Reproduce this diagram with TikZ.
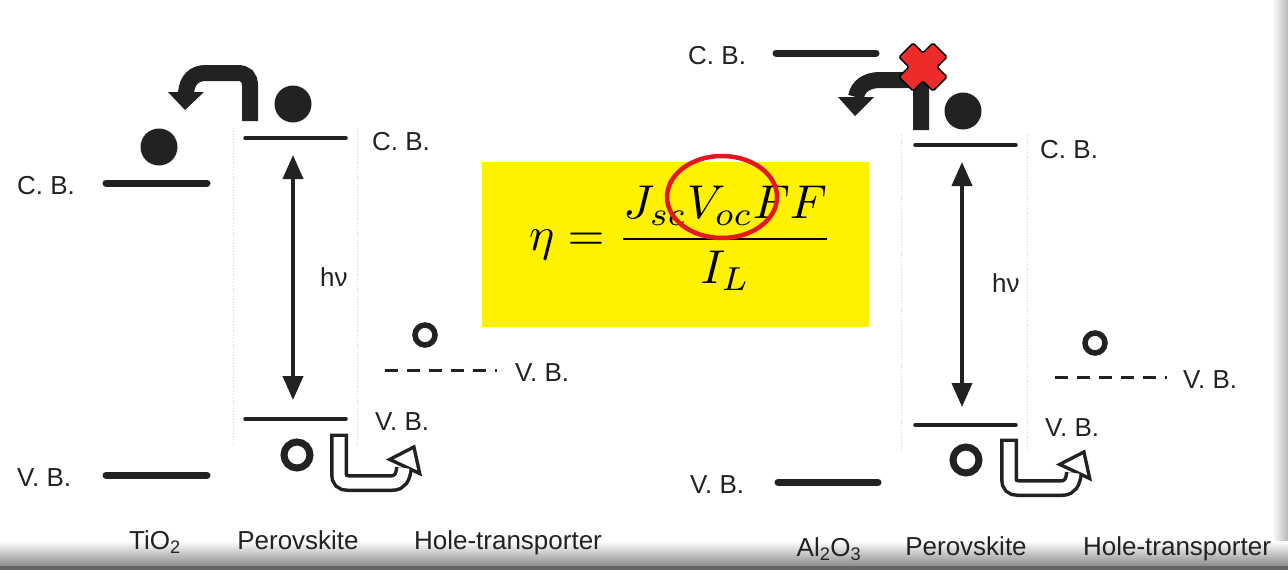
\documentclass[tikz,border=0pt]{standalone}
\usepackage{fontspec}
\newfontfamily\labfont{Liberation Sans}
\usetikzlibrary{arrows.meta}
\definecolor{ink}{HTML}{222222}
\definecolor{crossred}{HTML}{EE2B2B}
\definecolor{ringred}{HTML}{E5161D}
\begin{document}
\begin{tikzpicture}[x=1pt,y=-1pt,
  lbl/.style={font=\labfont\fontsize{26}{30}\selectfont, text=ink, inner sep=0pt, anchor=west},
  blbl/.style={font=\labfont\fontsize{26}{30}\selectfont, text=ink, inner sep=0pt, anchor=base},
  oxide/.style={line width=7pt, line cap=round, draw=ink},
  perov/.style={line width=3.5pt, line cap=round, draw=ink},
  htlevel/.style={line width=3pt, draw=ink, dash pattern=on 13pt off 9pt},
  gap/.style={line width=4pt, draw=ink, {Triangle[length=24pt,width=20pt]}-{Triangle[length=24pt,width=20pt]}},
  electron/.style={circle, fill=ink, minimum size=37pt, inner sep=0pt},
  hole/.style={circle, draw=ink, line width=7pt, minimum size=26pt, inner sep=0pt},
  smallhole/.style={circle, draw=ink, line width=5.5pt, minimum size=20pt, inner sep=0pt},
  guide/.style={draw=black!18, line width=0.8pt, dotted},
  eband/.style={draw=ink, line width=16pt},
  holearrow/.pic={
    \draw[ink, line width=18pt] (0,-3.5) -- (0,37) .. controls (0,43) and (3,46) .. (9,46) -- (53,46) .. controls (61,46) and (64,40) .. (65,31);
    \fill[ink] (76.1,7.5) -- (83.1,39.5) -- (46.9,22.5) -- cycle;
    \draw[white, line width=11pt] (0,0) -- (0,37) .. controls (0,43) and (3,46) .. (9,46) -- (53,46) .. controls (61,46) and (64,40) .. (65,31);
    \fill[white] (73.7,12.7) -- (78.2,33.3) -- (54.8,22.3) -- cycle;
  },
]
\useasboundingbox (0,0) rectangle (1288,570);
\fill[white] (0,0) rectangle (1288,570);

% frame edges
\shade[left color=white, right color=black!28] (1272,0) rectangle (1288,570);
\shade[top color=white, bottom color=black!45] (0,541) rectangle (1288,566);
\fill[black!60] (0,566) rectangle (1288,570);

% dotted guides
\draw[guide] (233,128) -- (233,445);
\draw[guide] (357,128) -- (357,445);
\draw[guide] (901,135) -- (901,450);
\draw[guide] (1027,135) -- (1027,450);

% ---------- left panel ----------
\draw[oxide] (106,183) -- (207,183);
\draw[oxide] (106,475) -- (207,475);
\draw[perov] (245,138) -- (346,138);
\draw[perov] (245,419) -- (346,419);
\draw[htlevel] (385,370) -- (497,370);

\coordinate (lcb) at (293,155);
\coordinate (lvb) at (293,400);
\draw[gap] (lcb) -- (lvb);

\node[electron] (e1) at (159,147) {};
\node[electron] (e2) at (293,104) {};
\node[hole] (h1) at (297,455) {};
\node[smallhole] (h2) at (425,335) {};

\draw[eband] (250,121) -- (250,86) .. controls (250,77) and (246,73) .. (237,73) -- (206,73) .. controls (194,73) and (187,80) .. (186,93);
\fill[ink] (168,92) -- (204,92) -- (185,110) -- cycle;

\pic at (339,437) {holearrow};

\node[lbl] (l1) at (17,186) {C. B.};
\node[lbl] (l2) at (17,478) {V. B.};
\node[lbl] (l3) at (372,142) {C. B.};
\node[lbl] (l4) at (375,422) {V. B.};
\node[lbl] (l5) at (320,277) {hν};
\node[lbl] (l6) at (515,373) {V. B.};

% ---------- right panel ----------
\draw[oxide] (776,53) -- (876,53);
\draw[oxide] (778,482) -- (878,482);
\draw[perov] (915,145) -- (1016,145);
\draw[perov] (915,425) -- (1016,425);
\draw[htlevel] (1055,377) -- (1167,377);

\coordinate (rcb) at (962,162);
\coordinate (rvb) at (962,407);
\draw[gap] (rcb) -- (rvb);

\node[electron] (e3) at (963,111) {};
\node[hole] (h3) at (966,460) {};
\node[smallhole] (h4) at (1095,343) {};

\draw[eband] (921,130) -- (921,90) .. controls (921,82) and (917,80) .. (909,80) -- (880,80) .. controls (867,80) and (858,86) .. (856,97);
\fill[ink] (838,97) -- (874,97) -- (855,116) -- cycle;

\begin{scope}[shift={(923,67)}, rotate=45]
\filldraw[fill=crossred, draw=black, line width=1.5pt, rounded corners=1.5pt] (10,-24) -- (10,-10) -- (24,-10) -- (24,10) -- (10,10) -- (10,24) -- (-10,24) -- (-10,10) -- (-24,10) -- (-24,-10) -- (-10,-10) -- (-10,-24) -- cycle;
\end{scope}

\pic at (1009,442) {holearrow};

\node[lbl] (r1) at (688,56) {C. B.};
\node[lbl] (r2) at (690,485) {V. B.};
\node[lbl] (r3) at (1040,150) {C. B.};
\node[lbl] (r4) at (1045,428) {V. B.};
\node[lbl] (r5) at (992,283) {hν};
\node[lbl] (r6) at (1183,380) {V. B.};

% ---------- formula ----------
\fill[yellow] (482,162) rectangle (869,327);
\node[inner sep=0pt] (eq) at (681,238) {\scalebox{4.75}{$\displaystyle\eta=\frac{J_{sc}V_{oc}FF}{I_L}$}};
\draw[ringred, line width=4.5pt] (722,197) ellipse [x radius=55, y radius=41];

% ---------- bottom labels ----------
\node[blbl] (b1) at (155,549) {TiO\textsubscript{2}};
\node[blbl] (b2) at (298,549) {Perovskite};
\node[blbl] (b3) at (508,549) {Hole-transporter};
\node[blbl] (b4) at (829,556) {Al\textsubscript{2}O\textsubscript{3}};
\node[blbl] (b5) at (966,555) {Perovskite};
\node[blbl] (b6) at (1177,555) {Hole-transporter};
\end{tikzpicture}
\end{document}
